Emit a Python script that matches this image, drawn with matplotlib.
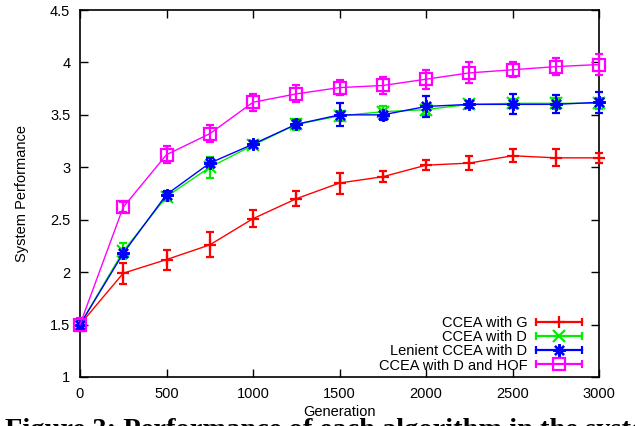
import matplotlib
matplotlib.use("Agg")
import matplotlib.pyplot as plt
from matplotlib.lines import Line2D
from matplotlib.legend_handler import HandlerBase
import numpy as np

generations = [0, 250, 500, 750, 1000, 1250, 1500, 1750, 2000, 2250, 2500, 2750, 3000]

ccea_g = [1.50, 1.99, 2.12, 2.26, 2.51, 2.70, 2.85, 2.91, 3.02, 3.04, 3.11, 3.09, 3.09]
ccea_g_err = [0.05, 0.10, 0.095, 0.12, 0.08, 0.07, 0.10, 0.05, 0.05, 0.07, 0.06, 0.08, 0.045]

ccea_d = [1.50, 2.20, 2.72, 3.00, 3.21, 3.41, 3.49, 3.53, 3.55, 3.60, 3.61, 3.61, 3.61]
ccea_d_err = [0.04, 0.076, 0.04, 0.10, 0.03, 0.05, 0.05, 0.05, 0.05, 0.03, 0.04, 0.05, 0.05]

lenient_d = [1.50, 2.18, 2.74, 3.04, 3.22, 3.41, 3.50, 3.50, 3.58, 3.60, 3.60, 3.60, 3.62]
lenient_d_err = [0.04, 0.04, 0.03, 0.05, 0.03, 0.04, 0.11, 0.05, 0.10, 0.03, 0.095, 0.085, 0.10]

ccea_hof = [1.50, 2.62, 3.12, 3.32, 3.62, 3.70, 3.76, 3.78, 3.84, 3.90, 3.93, 3.96, 3.98]
ccea_hof_err = [0.06, 0.05, 0.08, 0.08, 0.08, 0.08, 0.07, 0.08, 0.09, 0.10, 0.07, 0.08, 0.10]

labels = ["CCEA with G", "CCEA with D", "Lenient CCEA with D", "CCEA with D and HOF"]
colors = ["#ff0000", "#00ee00", "#0000ff", "#ff00ff"]
markers = ["+", "x", (8, 2, 0), "s"]
msizes = [9, 8, 9, 8.5]

x_ticks = [0, 500, 1000, 1500, 2000, 2500, 3000]
y_ticks = [1, 1.5, 2, 2.5, 3, 3.5, 4, 4.5]

plt.rcParams['font.family'] = ['Liberation Sans', 'DejaVu Sans']

fig = plt.figure(figsize=(6.35, 4.26), dpi=100)
ax = fig.add_axes([80/635, 1-377/426, (599-80)/635, (377-10)/426])

series = [(ccea_g, ccea_g_err), (ccea_d, ccea_d_err), (lenient_d, lenient_d_err), (ccea_hof, ccea_hof_err)]
for (vals, errs), lab, c, m, ms in zip(series, labels, colors, markers, msizes):
    ax.errorbar(generations, vals, yerr=errs, color=c, lw=1.0, elinewidth=1.6,
                capsize=3, capthick=1.6, marker=m, ms=ms, mew=1.6,
                mfc='none', mec=c, label=lab, clip_on=False, zorder=3)


class ErrLegendHandler(HandlerBase):
    def __init__(self, color, marker, ms):
        super().__init__()
        self.color = color
        self.marker = marker
        self.ms = ms

    def create_artists(self, legend, orig_handle, xdescent, ydescent, width, height, fontsize, trans):
        y = height / 2 - ydescent
        x0, x1 = -xdescent, -xdescent + width
        line = Line2D([x0, x1], [y, y], color=self.color, lw=1.6, transform=trans)
        caps = Line2D([x0, x1], [y, y], ls='none', marker='|', ms=6, mew=1.6,
                      color=self.color, transform=trans)
        mk = Line2D([(x0 + x1) / 2], [y], ls='none', marker=self.marker, ms=self.ms,
                    mew=1.6, mfc='none', mec=self.color, transform=trans)
        return [line, caps, mk]


handles = [Line2D([], []) for _ in labels]
hmap = {h: ErrLegendHandler(c, m, ms) for h, c, m, ms in zip(handles, colors, markers, msizes)}
ax.legend(handles, labels, handler_map=hmap, loc='lower right', frameon=False,
          markerfirst=False, fontsize=10.5, handlelength=3.15, handletextpad=0.6,
          labelspacing=0.02, borderaxespad=0, borderpad=0,
          bbox_to_anchor=(0.967, 0.012))

ax.set_xlim(0, 3000)
ax.set_ylim(1, 4.5)
ax.set_xticks(x_ticks)
ax.set_xticklabels([str(t) for t in x_ticks])
ax.set_yticks(y_ticks)
ax.set_yticklabels([f"{t:g}" for t in y_ticks])
ax.tick_params(direction='in', length=6, width=1, labelsize=10.5, top=True, right=True, pad=7)
for s in ax.spines.values():
    s.set_linewidth(1.2)

ax.set_xlabel("Generation", fontsize=10.5, labelpad=3)
ax.set_ylabel("System Performance", fontsize=10.5, labelpad=15)

fig.text(5/635, 1-437/426, "Figure 3: Performance of each algorithm in the system",
         family=['Liberation Serif', 'DejaVu Serif'], fontweight='bold', fontsize=20.5,
         ha='left', va='baseline')

fig.savefig("out.png", dpi=100)
